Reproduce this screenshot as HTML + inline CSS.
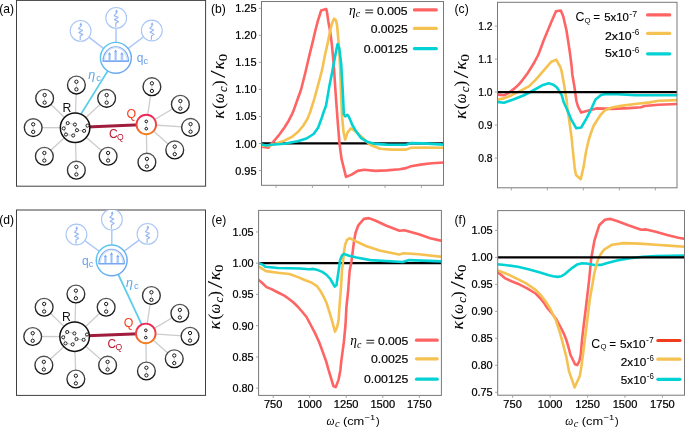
<!DOCTYPE html><html><head><meta charset="utf-8"><style>html,body{margin:0;padding:0;background:#fff;overflow:hidden}svg{display:block;will-change:transform;font-family:"Liberation Sans",sans-serif}</style></head><body>
<svg width="685" height="427" viewBox="0 0 685 427">
<defs>
<linearGradient id="gqa" x1="0" y1="0" x2="0" y2="1"><stop offset="0" stop-color="#ec2a5c"/><stop offset="0.55" stop-color="#f04a40"/><stop offset="1" stop-color="#f5821e"/></linearGradient>
<linearGradient id="gca" x1="0" y1="0" x2="1" y2="1"><stop offset="0" stop-color="#55cdf2"/><stop offset="0.5" stop-color="#62b4f0"/><stop offset="1" stop-color="#739ff0"/></linearGradient>
<linearGradient id="gqd" x1="0" y1="0" x2="0" y2="1"><stop offset="0" stop-color="#ec2a5c"/><stop offset="0.55" stop-color="#f04a40"/><stop offset="1" stop-color="#f5821e"/></linearGradient>
<linearGradient id="gcd" x1="0" y1="0" x2="1" y2="1"><stop offset="0" stop-color="#55cdf2"/><stop offset="0.5" stop-color="#62b4f0"/><stop offset="1" stop-color="#739ff0"/></linearGradient>
<linearGradient id="gsat" x1="0" y1="0" x2="0" y2="1"><stop offset="0" stop-color="#555"/><stop offset="0.5" stop-color="#333"/><stop offset="1" stop-color="#111"/></linearGradient>
</defs>
<rect width="685" height="427" fill="#fff"/>
<rect x="16.5" y="0.4" width="189.1" height="185.8" fill="none" stroke="#404040" stroke-width="1"/>
<rect x="16.5" y="210.0" width="189.0" height="185.4" fill="none" stroke="#404040" stroke-width="1"/>
<svg x="16.5" y="0.4" width="189.1" height="185.8" viewBox="16.5 0.4 189.1 185.8" overflow="hidden">
<line x1="75.10" y1="127.75" x2="76.40" y2="85.05" stroke="#cccccc" stroke-width="1.3"/>
<line x1="75.10" y1="127.75" x2="44.65" y2="98.30" stroke="#cccccc" stroke-width="1.3"/>
<line x1="75.10" y1="127.75" x2="33.20" y2="127.60" stroke="#cccccc" stroke-width="1.3"/>
<line x1="75.10" y1="127.75" x2="44.35" y2="156.25" stroke="#cccccc" stroke-width="1.3"/>
<line x1="75.10" y1="127.75" x2="76.35" y2="170.15" stroke="#cccccc" stroke-width="1.3"/>
<line x1="75.10" y1="127.75" x2="108.10" y2="156.25" stroke="#cccccc" stroke-width="1.3"/>
<line x1="75.10" y1="127.75" x2="106.65" y2="98.35" stroke="#cccccc" stroke-width="1.3"/>
<line x1="146.30" y1="124.50" x2="151.90" y2="86.65" stroke="#cccccc" stroke-width="1.3"/>
<line x1="146.30" y1="124.50" x2="180.35" y2="104.30" stroke="#cccccc" stroke-width="1.3"/>
<line x1="146.30" y1="124.50" x2="190.55" y2="127.40" stroke="#cccccc" stroke-width="1.3"/>
<line x1="146.30" y1="124.50" x2="174.75" y2="149.90" stroke="#cccccc" stroke-width="1.3"/>
<line x1="146.30" y1="124.50" x2="146.90" y2="162.15" stroke="#cccccc" stroke-width="1.3"/>
<line x1="115.85" y1="57.85" x2="80.60" y2="30.90" stroke="#abc8f6" stroke-width="1.5"/>
<line x1="115.85" y1="57.85" x2="116.20" y2="17.90" stroke="#abc8f6" stroke-width="1.5"/>
<line x1="115.85" y1="57.85" x2="151.80" y2="30.50" stroke="#abc8f6" stroke-width="1.5"/>
<line x1="115.85" y1="57.85" x2="72.50" y2="127.80" stroke="#5ccdec" stroke-width="1.8"/>
<line x1="75.10" y1="127.45" x2="146.30" y2="124.50" stroke="#a01c3c" stroke-width="3.0"/>
<circle cx="76.40" cy="85.05" r="8.90" fill="#fff" stroke="url(#gsat)" stroke-width="1.35"/>
<line x1="76.40" y1="82.65" x2="76.40" y2="87.45" stroke="#bbb" stroke-width="0.7"/>
<circle cx="76.40" cy="81.75" r="1.65" fill="#fff" stroke="#111" stroke-width="0.95"/>
<circle cx="76.40" cy="89.35" r="1.65" fill="#fff" stroke="#111" stroke-width="0.95"/>
<circle cx="44.65" cy="98.30" r="8.90" fill="#fff" stroke="url(#gsat)" stroke-width="1.35"/>
<line x1="44.65" y1="95.90" x2="44.65" y2="100.70" stroke="#bbb" stroke-width="0.7"/>
<circle cx="44.65" cy="95.00" r="1.65" fill="#fff" stroke="#111" stroke-width="0.95"/>
<circle cx="44.65" cy="102.60" r="1.65" fill="#fff" stroke="#111" stroke-width="0.95"/>
<circle cx="33.20" cy="127.60" r="8.90" fill="#fff" stroke="url(#gsat)" stroke-width="1.35"/>
<line x1="33.20" y1="125.20" x2="33.20" y2="130.00" stroke="#bbb" stroke-width="0.7"/>
<circle cx="33.20" cy="124.30" r="1.65" fill="#fff" stroke="#111" stroke-width="0.95"/>
<circle cx="33.20" cy="131.90" r="1.65" fill="#fff" stroke="#111" stroke-width="0.95"/>
<circle cx="44.35" cy="156.25" r="8.90" fill="#fff" stroke="url(#gsat)" stroke-width="1.35"/>
<line x1="44.35" y1="153.85" x2="44.35" y2="158.65" stroke="#bbb" stroke-width="0.7"/>
<circle cx="44.35" cy="152.95" r="1.65" fill="#fff" stroke="#111" stroke-width="0.95"/>
<circle cx="44.35" cy="160.55" r="1.65" fill="#fff" stroke="#111" stroke-width="0.95"/>
<circle cx="76.35" cy="170.15" r="8.90" fill="#fff" stroke="url(#gsat)" stroke-width="1.35"/>
<line x1="76.35" y1="167.75" x2="76.35" y2="172.55" stroke="#bbb" stroke-width="0.7"/>
<circle cx="76.35" cy="166.85" r="1.65" fill="#fff" stroke="#111" stroke-width="0.95"/>
<circle cx="76.35" cy="174.45" r="1.65" fill="#fff" stroke="#111" stroke-width="0.95"/>
<circle cx="108.10" cy="156.25" r="8.90" fill="#fff" stroke="url(#gsat)" stroke-width="1.35"/>
<line x1="108.10" y1="153.85" x2="108.10" y2="158.65" stroke="#bbb" stroke-width="0.7"/>
<circle cx="108.10" cy="152.95" r="1.65" fill="#fff" stroke="#111" stroke-width="0.95"/>
<circle cx="108.10" cy="160.55" r="1.65" fill="#fff" stroke="#111" stroke-width="0.95"/>
<circle cx="106.65" cy="98.35" r="8.90" fill="#fff" stroke="url(#gsat)" stroke-width="1.35"/>
<line x1="106.65" y1="95.95" x2="106.65" y2="100.75" stroke="#bbb" stroke-width="0.7"/>
<circle cx="106.65" cy="95.05" r="1.65" fill="#fff" stroke="#111" stroke-width="0.95"/>
<circle cx="106.65" cy="102.65" r="1.65" fill="#fff" stroke="#111" stroke-width="0.95"/>
<circle cx="151.90" cy="86.65" r="8.90" fill="#fff" stroke="url(#gsat)" stroke-width="1.35"/>
<line x1="151.90" y1="84.25" x2="151.90" y2="89.05" stroke="#bbb" stroke-width="0.7"/>
<circle cx="151.90" cy="83.35" r="1.65" fill="#fff" stroke="#111" stroke-width="0.95"/>
<circle cx="151.90" cy="90.95" r="1.65" fill="#fff" stroke="#111" stroke-width="0.95"/>
<circle cx="180.35" cy="104.30" r="8.90" fill="#fff" stroke="url(#gsat)" stroke-width="1.35"/>
<line x1="180.35" y1="101.90" x2="180.35" y2="106.70" stroke="#bbb" stroke-width="0.7"/>
<circle cx="180.35" cy="101.00" r="1.65" fill="#fff" stroke="#111" stroke-width="0.95"/>
<circle cx="180.35" cy="108.60" r="1.65" fill="#fff" stroke="#111" stroke-width="0.95"/>
<circle cx="190.55" cy="127.40" r="8.90" fill="#fff" stroke="url(#gsat)" stroke-width="1.35"/>
<line x1="190.55" y1="125.00" x2="190.55" y2="129.80" stroke="#bbb" stroke-width="0.7"/>
<circle cx="190.55" cy="124.10" r="1.65" fill="#fff" stroke="#111" stroke-width="0.95"/>
<circle cx="190.55" cy="131.70" r="1.65" fill="#fff" stroke="#111" stroke-width="0.95"/>
<circle cx="174.75" cy="149.90" r="8.90" fill="#fff" stroke="url(#gsat)" stroke-width="1.35"/>
<line x1="174.75" y1="147.50" x2="174.75" y2="152.30" stroke="#bbb" stroke-width="0.7"/>
<circle cx="174.75" cy="146.60" r="1.65" fill="#fff" stroke="#111" stroke-width="0.95"/>
<circle cx="174.75" cy="154.20" r="1.65" fill="#fff" stroke="#111" stroke-width="0.95"/>
<circle cx="146.90" cy="162.15" r="8.90" fill="#fff" stroke="url(#gsat)" stroke-width="1.35"/>
<line x1="146.90" y1="159.75" x2="146.90" y2="164.55" stroke="#bbb" stroke-width="0.7"/>
<circle cx="146.90" cy="158.85" r="1.65" fill="#fff" stroke="#111" stroke-width="0.95"/>
<circle cx="146.90" cy="166.45" r="1.65" fill="#fff" stroke="#111" stroke-width="0.95"/>
<circle cx="80.60" cy="30.90" r="10.40" fill="#fff" stroke="#a9c6f5" stroke-width="1.1"/>
<polyline points="80.2,40.1 80.2,36.3 82.8,34.6 78.9,32.6 82.5,30.4 78.6,28.7 80.9,26.2 80.9,24.3" fill="none" stroke="#98b9f3" stroke-width="1.2" stroke-linejoin="round"/>
<polygon points="80.9,22.3 79.4,25.2 82.4,25.2" fill="#8fb4f2"/>
<circle cx="116.20" cy="17.90" r="10.40" fill="#fff" stroke="#a9c6f5" stroke-width="1.1"/>
<polyline points="115.8,27.1 115.8,23.3 118.4,21.6 114.5,19.6 118.1,17.4 114.2,15.7 116.5,13.2 116.5,11.3" fill="none" stroke="#98b9f3" stroke-width="1.2" stroke-linejoin="round"/>
<polygon points="116.5,9.3 115.0,12.2 118.0,12.2" fill="#8fb4f2"/>
<circle cx="151.80" cy="30.50" r="10.40" fill="#fff" stroke="#a9c6f5" stroke-width="1.1"/>
<polyline points="151.4,39.7 151.4,35.9 154.0,34.2 150.1,32.2 153.7,30.0 149.8,28.3 152.1,25.8 152.1,23.9" fill="none" stroke="#98b9f3" stroke-width="1.2" stroke-linejoin="round"/>
<polygon points="152.1,21.9 150.6,24.8 153.6,24.8" fill="#8fb4f2"/>
<circle cx="75.10" cy="127.75" r="14.75" fill="#fff" stroke="#111" stroke-width="1.5"/>
<line x1="67.70" y1="123.10" x2="74.90" y2="124.50" stroke="#aaa" stroke-width="0.6"/>
<line x1="74.90" y1="124.50" x2="77.00" y2="130.20" stroke="#aaa" stroke-width="0.6"/>
<line x1="77.00" y1="130.20" x2="73.20" y2="135.50" stroke="#aaa" stroke-width="0.6"/>
<line x1="73.20" y1="135.50" x2="66.00" y2="134.50" stroke="#aaa" stroke-width="0.6"/>
<line x1="66.00" y1="134.50" x2="63.70" y2="128.40" stroke="#aaa" stroke-width="0.6"/>
<line x1="63.70" y1="128.40" x2="67.70" y2="123.10" stroke="#aaa" stroke-width="0.6"/>
<line x1="77.00" y1="130.20" x2="84.10" y2="130.90" stroke="#aaa" stroke-width="0.6"/>
<line x1="84.10" y1="130.90" x2="87.50" y2="125.60" stroke="#aaa" stroke-width="0.6"/>
<circle cx="67.70" cy="123.10" r="1.55" fill="#fff" stroke="#1a1a1a" stroke-width="0.95"/>
<circle cx="74.90" cy="124.50" r="1.55" fill="#fff" stroke="#1a1a1a" stroke-width="0.95"/>
<circle cx="63.70" cy="128.40" r="1.55" fill="#fff" stroke="#1a1a1a" stroke-width="0.95"/>
<circle cx="77.00" cy="130.20" r="1.55" fill="#fff" stroke="#1a1a1a" stroke-width="0.95"/>
<circle cx="84.10" cy="130.90" r="1.55" fill="#fff" stroke="#1a1a1a" stroke-width="0.95"/>
<circle cx="87.50" cy="125.60" r="1.55" fill="#fff" stroke="#1a1a1a" stroke-width="0.95"/>
<circle cx="66.00" cy="134.50" r="1.55" fill="#fff" stroke="#1a1a1a" stroke-width="0.95"/>
<circle cx="73.20" cy="135.50" r="1.55" fill="#fff" stroke="#1a1a1a" stroke-width="0.95"/>
<circle cx="146.30" cy="124.50" r="9.8" fill="#fff" stroke="url(#gqa)" stroke-width="1.9"/>
<line x1="146.30" y1="122.90" x2="146.30" y2="126.90" stroke="#bbb" stroke-width="0.6"/>
<circle cx="146.30" cy="121.40" r="1.3" fill="#fff" stroke="#111" stroke-width="1.0"/>
<circle cx="146.30" cy="128.70" r="1.3" fill="#fff" stroke="#111" stroke-width="1.0"/>
<circle cx="115.85" cy="57.85" r="15.45" fill="#fff" stroke="url(#gca)" stroke-width="1.45"/>
<path d="M103.05,61.20 A12.70,14.40 0 0 1 128.45,61.20 Z" fill="#fff" stroke="#78a8f2" stroke-width="1.3"/>
<path d="M104.45,60.60 A11.30,13.00 0 0 1 127.05,60.60" fill="none" stroke="#d2e3fb" stroke-width="1.4"/>
<line x1="109.55" y1="60.60" x2="109.55" y2="53.95" stroke="#c4dafa" stroke-width="2.8"/>
<line x1="109.55" y1="60.60" x2="109.55" y2="53.95" stroke="#8fb8f5" stroke-width="0.8"/>
<polygon points="109.5,52.0 108.0,54.6 111.0,54.6" fill="#78a6f0"/>
<line x1="115.65" y1="60.60" x2="115.65" y2="51.55" stroke="#c4dafa" stroke-width="2.8"/>
<line x1="115.65" y1="60.60" x2="115.65" y2="51.55" stroke="#8fb8f5" stroke-width="0.8"/>
<polygon points="115.6,49.5 114.1,52.1 117.1,52.1" fill="#78a6f0"/>
<line x1="121.95" y1="60.60" x2="121.95" y2="53.95" stroke="#c4dafa" stroke-width="2.8"/>
<line x1="121.95" y1="60.60" x2="121.95" y2="53.95" stroke="#8fb8f5" stroke-width="0.8"/>
<polygon points="121.9,52.0 120.4,54.6 123.4,54.6" fill="#78a6f0"/>
<line x1="103.05" y1="61.20" x2="128.45" y2="61.20" stroke="#78a8f2" stroke-width="1.3"/>
<text x="62.40" y="111.70" font-size="12.2" fill="#111">R</text>
<text x="126.40" y="118.40" font-size="12.4" fill="#f8401f">Q</text>
<text x="109.10" y="137.90" font-size="12.0" fill="#bc1830">C</text>
<text x="117.00" y="140.00" font-size="8.6" fill="#bc1830">Q</text>
<text x="136.70" y="61.80" font-size="12" fill="#6b9ee8">q</text>
<text x="143.50" y="64.00" font-size="9.4" fill="#6b9ee8">c</text>
<text x="88.20" y="78.70" font-size="12.5" font-style="italic" fill="#5aa8e8">&#951;</text>
<text x="96.20" y="80.80" font-size="9.4" fill="#5aa8e8">c</text>
</svg>
<svg x="16.5" y="210.0" width="189.0" height="185.4" viewBox="16.5 210.0 189.0 185.4" overflow="hidden">
<line x1="74.60" y1="336.65" x2="75.90" y2="293.95" stroke="#cccccc" stroke-width="1.3"/>
<line x1="74.60" y1="336.65" x2="44.15" y2="307.20" stroke="#cccccc" stroke-width="1.3"/>
<line x1="74.60" y1="336.65" x2="32.70" y2="336.50" stroke="#cccccc" stroke-width="1.3"/>
<line x1="74.60" y1="336.65" x2="43.85" y2="365.15" stroke="#cccccc" stroke-width="1.3"/>
<line x1="74.60" y1="336.65" x2="75.85" y2="379.05" stroke="#cccccc" stroke-width="1.3"/>
<line x1="74.60" y1="336.65" x2="107.60" y2="365.15" stroke="#cccccc" stroke-width="1.3"/>
<line x1="74.60" y1="336.65" x2="106.15" y2="307.25" stroke="#cccccc" stroke-width="1.3"/>
<line x1="145.80" y1="333.40" x2="151.40" y2="295.55" stroke="#cccccc" stroke-width="1.3"/>
<line x1="145.80" y1="333.40" x2="179.85" y2="313.20" stroke="#cccccc" stroke-width="1.3"/>
<line x1="145.80" y1="333.40" x2="190.05" y2="336.30" stroke="#cccccc" stroke-width="1.3"/>
<line x1="145.80" y1="333.40" x2="174.25" y2="358.80" stroke="#cccccc" stroke-width="1.3"/>
<line x1="145.80" y1="333.40" x2="146.40" y2="371.05" stroke="#cccccc" stroke-width="1.3"/>
<line x1="111.70" y1="260.35" x2="76.45" y2="234.50" stroke="#abc8f6" stroke-width="1.5"/>
<line x1="111.70" y1="260.35" x2="111.90" y2="219.60" stroke="#abc8f6" stroke-width="1.5"/>
<line x1="111.70" y1="260.35" x2="147.50" y2="233.90" stroke="#abc8f6" stroke-width="1.5"/>
<line x1="111.70" y1="260.35" x2="145.80" y2="333.40" stroke="#5ccdec" stroke-width="1.8"/>
<line x1="74.60" y1="336.35" x2="145.80" y2="333.40" stroke="#a01c3c" stroke-width="3.0"/>
<circle cx="75.90" cy="293.95" r="8.90" fill="#fff" stroke="url(#gsat)" stroke-width="1.35"/>
<line x1="75.90" y1="291.55" x2="75.90" y2="296.35" stroke="#bbb" stroke-width="0.7"/>
<circle cx="75.90" cy="290.65" r="1.65" fill="#fff" stroke="#111" stroke-width="0.95"/>
<circle cx="75.90" cy="298.25" r="1.65" fill="#fff" stroke="#111" stroke-width="0.95"/>
<circle cx="44.15" cy="307.20" r="8.90" fill="#fff" stroke="url(#gsat)" stroke-width="1.35"/>
<line x1="44.15" y1="304.80" x2="44.15" y2="309.60" stroke="#bbb" stroke-width="0.7"/>
<circle cx="44.15" cy="303.90" r="1.65" fill="#fff" stroke="#111" stroke-width="0.95"/>
<circle cx="44.15" cy="311.50" r="1.65" fill="#fff" stroke="#111" stroke-width="0.95"/>
<circle cx="32.70" cy="336.50" r="8.90" fill="#fff" stroke="url(#gsat)" stroke-width="1.35"/>
<line x1="32.70" y1="334.10" x2="32.70" y2="338.90" stroke="#bbb" stroke-width="0.7"/>
<circle cx="32.70" cy="333.20" r="1.65" fill="#fff" stroke="#111" stroke-width="0.95"/>
<circle cx="32.70" cy="340.80" r="1.65" fill="#fff" stroke="#111" stroke-width="0.95"/>
<circle cx="43.85" cy="365.15" r="8.90" fill="#fff" stroke="url(#gsat)" stroke-width="1.35"/>
<line x1="43.85" y1="362.75" x2="43.85" y2="367.55" stroke="#bbb" stroke-width="0.7"/>
<circle cx="43.85" cy="361.85" r="1.65" fill="#fff" stroke="#111" stroke-width="0.95"/>
<circle cx="43.85" cy="369.45" r="1.65" fill="#fff" stroke="#111" stroke-width="0.95"/>
<circle cx="75.85" cy="379.05" r="8.90" fill="#fff" stroke="url(#gsat)" stroke-width="1.35"/>
<line x1="75.85" y1="376.65" x2="75.85" y2="381.45" stroke="#bbb" stroke-width="0.7"/>
<circle cx="75.85" cy="375.75" r="1.65" fill="#fff" stroke="#111" stroke-width="0.95"/>
<circle cx="75.85" cy="383.35" r="1.65" fill="#fff" stroke="#111" stroke-width="0.95"/>
<circle cx="107.60" cy="365.15" r="8.90" fill="#fff" stroke="url(#gsat)" stroke-width="1.35"/>
<line x1="107.60" y1="362.75" x2="107.60" y2="367.55" stroke="#bbb" stroke-width="0.7"/>
<circle cx="107.60" cy="361.85" r="1.65" fill="#fff" stroke="#111" stroke-width="0.95"/>
<circle cx="107.60" cy="369.45" r="1.65" fill="#fff" stroke="#111" stroke-width="0.95"/>
<circle cx="106.15" cy="307.25" r="8.90" fill="#fff" stroke="url(#gsat)" stroke-width="1.35"/>
<line x1="106.15" y1="304.85" x2="106.15" y2="309.65" stroke="#bbb" stroke-width="0.7"/>
<circle cx="106.15" cy="303.95" r="1.65" fill="#fff" stroke="#111" stroke-width="0.95"/>
<circle cx="106.15" cy="311.55" r="1.65" fill="#fff" stroke="#111" stroke-width="0.95"/>
<circle cx="151.40" cy="295.55" r="8.90" fill="#fff" stroke="url(#gsat)" stroke-width="1.35"/>
<line x1="151.40" y1="293.15" x2="151.40" y2="297.95" stroke="#bbb" stroke-width="0.7"/>
<circle cx="151.40" cy="292.25" r="1.65" fill="#fff" stroke="#111" stroke-width="0.95"/>
<circle cx="151.40" cy="299.85" r="1.65" fill="#fff" stroke="#111" stroke-width="0.95"/>
<circle cx="179.85" cy="313.20" r="8.90" fill="#fff" stroke="url(#gsat)" stroke-width="1.35"/>
<line x1="179.85" y1="310.80" x2="179.85" y2="315.60" stroke="#bbb" stroke-width="0.7"/>
<circle cx="179.85" cy="309.90" r="1.65" fill="#fff" stroke="#111" stroke-width="0.95"/>
<circle cx="179.85" cy="317.50" r="1.65" fill="#fff" stroke="#111" stroke-width="0.95"/>
<circle cx="190.05" cy="336.30" r="8.90" fill="#fff" stroke="url(#gsat)" stroke-width="1.35"/>
<line x1="190.05" y1="333.90" x2="190.05" y2="338.70" stroke="#bbb" stroke-width="0.7"/>
<circle cx="190.05" cy="333.00" r="1.65" fill="#fff" stroke="#111" stroke-width="0.95"/>
<circle cx="190.05" cy="340.60" r="1.65" fill="#fff" stroke="#111" stroke-width="0.95"/>
<circle cx="174.25" cy="358.80" r="8.90" fill="#fff" stroke="url(#gsat)" stroke-width="1.35"/>
<line x1="174.25" y1="356.40" x2="174.25" y2="361.20" stroke="#bbb" stroke-width="0.7"/>
<circle cx="174.25" cy="355.50" r="1.65" fill="#fff" stroke="#111" stroke-width="0.95"/>
<circle cx="174.25" cy="363.10" r="1.65" fill="#fff" stroke="#111" stroke-width="0.95"/>
<circle cx="146.40" cy="371.05" r="8.90" fill="#fff" stroke="url(#gsat)" stroke-width="1.35"/>
<line x1="146.40" y1="368.65" x2="146.40" y2="373.45" stroke="#bbb" stroke-width="0.7"/>
<circle cx="146.40" cy="367.75" r="1.65" fill="#fff" stroke="#111" stroke-width="0.95"/>
<circle cx="146.40" cy="375.35" r="1.65" fill="#fff" stroke="#111" stroke-width="0.95"/>
<circle cx="76.45" cy="234.50" r="10.40" fill="#fff" stroke="#a9c6f5" stroke-width="1.1"/>
<polyline points="76.0,243.7 76.0,239.9 78.7,238.2 74.8,236.2 78.4,234.0 74.5,232.3 76.8,229.8 76.8,227.9" fill="none" stroke="#98b9f3" stroke-width="1.2" stroke-linejoin="round"/>
<polygon points="76.8,225.9 75.2,228.8 78.2,228.8" fill="#8fb4f2"/>
<circle cx="111.90" cy="219.60" r="10.40" fill="#fff" stroke="#a9c6f5" stroke-width="1.1"/>
<polyline points="111.5,228.8 111.5,225.0 114.1,223.3 110.2,221.3 113.8,219.1 109.9,217.4 112.2,214.9 112.2,213.0" fill="none" stroke="#98b9f3" stroke-width="1.2" stroke-linejoin="round"/>
<polygon points="112.2,211.0 110.7,213.9 113.7,213.9" fill="#8fb4f2"/>
<circle cx="147.50" cy="233.90" r="10.40" fill="#fff" stroke="#a9c6f5" stroke-width="1.1"/>
<polyline points="147.1,243.1 147.1,239.3 149.7,237.6 145.8,235.6 149.4,233.4 145.5,231.7 147.8,229.2 147.8,227.3" fill="none" stroke="#98b9f3" stroke-width="1.2" stroke-linejoin="round"/>
<polygon points="147.8,225.3 146.3,228.2 149.3,228.2" fill="#8fb4f2"/>
<circle cx="74.60" cy="336.65" r="14.75" fill="#fff" stroke="#111" stroke-width="1.5"/>
<line x1="67.20" y1="332.00" x2="74.40" y2="333.40" stroke="#aaa" stroke-width="0.6"/>
<line x1="74.40" y1="333.40" x2="76.50" y2="339.10" stroke="#aaa" stroke-width="0.6"/>
<line x1="76.50" y1="339.10" x2="72.70" y2="344.40" stroke="#aaa" stroke-width="0.6"/>
<line x1="72.70" y1="344.40" x2="65.50" y2="343.40" stroke="#aaa" stroke-width="0.6"/>
<line x1="65.50" y1="343.40" x2="63.20" y2="337.30" stroke="#aaa" stroke-width="0.6"/>
<line x1="63.20" y1="337.30" x2="67.20" y2="332.00" stroke="#aaa" stroke-width="0.6"/>
<line x1="76.50" y1="339.10" x2="83.60" y2="339.80" stroke="#aaa" stroke-width="0.6"/>
<line x1="83.60" y1="339.80" x2="87.00" y2="334.50" stroke="#aaa" stroke-width="0.6"/>
<circle cx="67.20" cy="332.00" r="1.55" fill="#fff" stroke="#1a1a1a" stroke-width="0.95"/>
<circle cx="74.40" cy="333.40" r="1.55" fill="#fff" stroke="#1a1a1a" stroke-width="0.95"/>
<circle cx="63.20" cy="337.30" r="1.55" fill="#fff" stroke="#1a1a1a" stroke-width="0.95"/>
<circle cx="76.50" cy="339.10" r="1.55" fill="#fff" stroke="#1a1a1a" stroke-width="0.95"/>
<circle cx="83.60" cy="339.80" r="1.55" fill="#fff" stroke="#1a1a1a" stroke-width="0.95"/>
<circle cx="87.00" cy="334.50" r="1.55" fill="#fff" stroke="#1a1a1a" stroke-width="0.95"/>
<circle cx="65.50" cy="343.40" r="1.55" fill="#fff" stroke="#1a1a1a" stroke-width="0.95"/>
<circle cx="72.70" cy="344.40" r="1.55" fill="#fff" stroke="#1a1a1a" stroke-width="0.95"/>
<circle cx="145.80" cy="333.40" r="9.8" fill="#fff" stroke="url(#gqd)" stroke-width="1.9"/>
<line x1="145.80" y1="331.80" x2="145.80" y2="335.80" stroke="#bbb" stroke-width="0.6"/>
<circle cx="145.80" cy="330.30" r="1.3" fill="#fff" stroke="#111" stroke-width="1.0"/>
<circle cx="145.80" cy="337.60" r="1.3" fill="#fff" stroke="#111" stroke-width="1.0"/>
<circle cx="111.70" cy="260.35" r="15.45" fill="#fff" stroke="url(#gcd)" stroke-width="1.45"/>
<path d="M98.90,263.70 A12.70,14.40 0 0 1 124.30,263.70 Z" fill="#fff" stroke="#78a8f2" stroke-width="1.3"/>
<path d="M100.30,263.10 A11.30,13.00 0 0 1 122.90,263.10" fill="none" stroke="#d2e3fb" stroke-width="1.4"/>
<line x1="105.40" y1="263.10" x2="105.40" y2="256.45" stroke="#c4dafa" stroke-width="2.8"/>
<line x1="105.40" y1="263.10" x2="105.40" y2="256.45" stroke="#8fb8f5" stroke-width="0.8"/>
<polygon points="105.4,254.5 103.9,257.1 106.9,257.1" fill="#78a6f0"/>
<line x1="111.50" y1="263.10" x2="111.50" y2="254.05" stroke="#c4dafa" stroke-width="2.8"/>
<line x1="111.50" y1="263.10" x2="111.50" y2="254.05" stroke="#8fb8f5" stroke-width="0.8"/>
<polygon points="111.5,252.1 110.0,254.7 113.0,254.7" fill="#78a6f0"/>
<line x1="117.80" y1="263.10" x2="117.80" y2="256.45" stroke="#c4dafa" stroke-width="2.8"/>
<line x1="117.80" y1="263.10" x2="117.80" y2="256.45" stroke="#8fb8f5" stroke-width="0.8"/>
<polygon points="117.8,254.5 116.3,257.1 119.3,257.1" fill="#78a6f0"/>
<line x1="98.90" y1="263.70" x2="124.30" y2="263.70" stroke="#78a8f2" stroke-width="1.3"/>
<text x="61.90" y="320.60" font-size="12.2" fill="#111">R</text>
<text x="123.70" y="327.40" font-size="12.4" fill="#f8401f">Q</text>
<text x="107.60" y="347.60" font-size="12.0" fill="#bc1830">C</text>
<text x="115.50" y="349.70" font-size="8.6" fill="#bc1830">Q</text>
<text x="82.00" y="264.80" font-size="12" fill="#6b9ee8">q</text>
<text x="88.80" y="267.00" font-size="9.4" fill="#6b9ee8">c</text>
<text x="126.00" y="286.60" font-size="12.5" font-style="italic" fill="#5aa8e8">&#951;</text>
<text x="134.00" y="288.70" font-size="9.4" fill="#5aa8e8">c</text>
</svg>
<clipPath id="clipb"><rect x="261.50" y="1.50" width="182.00" height="183.80"/></clipPath>
<g clip-path="url(#clipb)"><line x1="261.50" y1="143.40" x2="443.50" y2="143.40" stroke="#000" stroke-width="2.3"/><polyline points="262.0,146.8 265.0,147.3 268.5,147.7 270.9,144.3 275.4,139.4 279.8,134.0 284.3,127.8 288.7,120.7 292.3,113.6 294.0,109.4 297.5,99.5 301.0,89.8 305.5,72.0 306.7,66.8 309.8,53.6 312.4,43.1 315.5,30.0 317.8,21.2 321.1,10.6 326.2,9.1 326.9,11.7 328.4,21.9 329.9,30.0 331.7,43.1 333.0,56.3 333.9,66.8 335.3,88.5 336.1,100.0 337.9,124.2 339.5,143.6 341.5,158.8 346.0,176.9 351.2,174.9 357.6,170.9 364.1,169.8 375.4,170.9 386.7,170.4 399.6,169.3 406.1,168.1 410.9,166.3 422.2,164.4 431.9,163.3 444.0,162.5" fill="none" stroke="#ff6464" stroke-width="2.6" stroke-linejoin="round" stroke-linecap="round"/><polyline points="262.0,145.7 268.5,146.0 275.4,143.8 284.3,140.7 291.4,137.2 297.6,132.3 303.0,126.0 307.4,118.9 310.2,112.0 312.2,105.5 314.4,98.7 318.0,85.4 321.5,72.0 322.7,66.8 325.1,54.5 327.7,43.1 330.3,30.0 332.0,23.4 334.2,18.6 336.0,20.4 337.0,25.0 337.6,31.0 338.2,38.0 338.8,45.0 339.5,56.0 340.2,70.0 340.8,88.5 341.3,100.0 342.0,116.0 343.6,132.3 345.2,139.6 347.6,132.3 350.9,128.3 355.7,131.5 362.5,137.8 370.5,145.0 380.2,148.8 391.5,149.6 406.1,149.6 410.9,147.8 423.9,147.5 444.0,147.8" fill="none" stroke="#f5c150" stroke-width="2.6" stroke-linejoin="round" stroke-linecap="round"/><polyline points="262.0,144.4 266.0,145.5 270.9,144.7 284.3,143.8 297.6,141.2 306.5,138.5 313.6,134.0 318.1,127.8 321.7,118.0 324.0,111.0 326.0,105.8 329.5,85.4 332.2,72.0 334.3,60.6 336.3,50.0 337.6,44.0 339.2,48.0 340.2,55.7 341.2,64.2 342.6,88.5 343.2,100.0 343.8,114.1 345.2,116.4 347.3,114.9 348.7,116.4 350.5,120.5 352.3,125.0 355.7,130.7 360.8,137.8 367.3,141.8 375.4,143.9 386.7,144.6 406.1,144.7 410.9,143.1 423.9,143.4 444.0,144.6" fill="none" stroke="#03d2d4" stroke-width="2.6" stroke-linejoin="round" stroke-linecap="round"/></g>
<rect x="261.50" y="1.50" width="182.00" height="183.80" fill="none" stroke="#787878" stroke-width="1"/>
<line x1="258.90" y1="8.30" x2="261.50" y2="8.30" stroke="#9a9a9a" stroke-width="0.9"/>
<text x="256.50" y="12.30" font-size="10.5" stroke="#000" stroke-width="0.22" text-anchor="end" textLength="21.3" lengthAdjust="spacingAndGlyphs">1.25</text>
<line x1="258.90" y1="35.34" x2="261.50" y2="35.34" stroke="#9a9a9a" stroke-width="0.9"/>
<text x="256.50" y="39.34" font-size="10.5" stroke="#000" stroke-width="0.22" text-anchor="end" textLength="21.3" lengthAdjust="spacingAndGlyphs">1.20</text>
<line x1="258.90" y1="62.38" x2="261.50" y2="62.38" stroke="#9a9a9a" stroke-width="0.9"/>
<text x="256.50" y="66.38" font-size="10.5" stroke="#000" stroke-width="0.22" text-anchor="end" textLength="21.3" lengthAdjust="spacingAndGlyphs">1.15</text>
<line x1="258.90" y1="89.42" x2="261.50" y2="89.42" stroke="#9a9a9a" stroke-width="0.9"/>
<text x="256.50" y="93.42" font-size="10.5" stroke="#000" stroke-width="0.22" text-anchor="end" textLength="21.3" lengthAdjust="spacingAndGlyphs">1.10</text>
<line x1="258.90" y1="116.46" x2="261.50" y2="116.46" stroke="#9a9a9a" stroke-width="0.9"/>
<text x="256.50" y="120.46" font-size="10.5" stroke="#000" stroke-width="0.22" text-anchor="end" textLength="21.3" lengthAdjust="spacingAndGlyphs">1.05</text>
<line x1="258.90" y1="143.50" x2="261.50" y2="143.50" stroke="#9a9a9a" stroke-width="0.9"/>
<text x="256.50" y="147.50" font-size="10.5" stroke="#000" stroke-width="0.22" text-anchor="end" textLength="21.3" lengthAdjust="spacingAndGlyphs">1.00</text>
<line x1="258.90" y1="170.54" x2="261.50" y2="170.54" stroke="#9a9a9a" stroke-width="0.9"/>
<text x="256.50" y="174.54" font-size="10.5" stroke="#000" stroke-width="0.22" text-anchor="end" textLength="21.3" lengthAdjust="spacingAndGlyphs">0.95</text>
<line x1="276.10" y1="185.30" x2="276.10" y2="187.90" stroke="#9a9a9a" stroke-width="0.9"/>
<line x1="312.40" y1="185.30" x2="312.40" y2="187.90" stroke="#9a9a9a" stroke-width="0.9"/>
<line x1="348.70" y1="185.30" x2="348.70" y2="187.90" stroke="#9a9a9a" stroke-width="0.9"/>
<line x1="385.10" y1="185.30" x2="385.10" y2="187.90" stroke="#9a9a9a" stroke-width="0.9"/>
<line x1="421.40" y1="185.30" x2="421.40" y2="187.90" stroke="#9a9a9a" stroke-width="0.9"/>
<g transform="translate(223.60,118.50) rotate(-90)" font-family="Liberation Serif" stroke="#000" stroke-width="0.08"><text x="-0.30" y="0.00" font-size="17.5" font-style="italic" textLength="8.60" lengthAdjust="spacingAndGlyphs">&#954;</text><text x="9.40" y="0.00" font-size="17.5" textLength="6.00" lengthAdjust="spacingAndGlyphs">(</text><text x="15.60" y="0.00" font-size="17.5" font-style="italic" textLength="9.60" lengthAdjust="spacingAndGlyphs">&#969;</text><text x="26.60" y="2.90" font-size="12.0" font-style="italic" textLength="5.60" lengthAdjust="spacingAndGlyphs">c</text><text x="32.40" y="0.00" font-size="17.5" textLength="5.60" lengthAdjust="spacingAndGlyphs">)</text><text x="40.60" y="1.80" font-size="20.5" textLength="7.60" lengthAdjust="spacingAndGlyphs">/</text><text x="49.30" y="0.00" font-size="17.5" font-style="italic" textLength="8.00" lengthAdjust="spacingAndGlyphs">&#954;</text><text x="57.20" y="2.90" font-size="12.0" textLength="7.40" lengthAdjust="spacingAndGlyphs">0</text></g>
<text x="348.9" y="15.1" font-family="Liberation Serif" font-style="italic" font-size="13.6">&#951;</text>
<text x="355.7" y="17.4" font-family="Liberation Serif" font-style="italic" font-size="10">c</text>
<line x1="365.30" y1="10.10" x2="373.10" y2="10.10" stroke="#111" stroke-width="0.95"/>
<line x1="365.30" y1="12.80" x2="373.10" y2="12.80" stroke="#111" stroke-width="0.95"/>
<text x="377.10" y="15.00" font-size="11.5" stroke="#000" stroke-width="0.18" textLength="30.5" lengthAdjust="spacingAndGlyphs">0.005</text>
<line x1="414.40" y1="9.90" x2="436.30" y2="9.90" stroke="#ff6464" stroke-width="3.2" stroke-linecap="round"/>
<text x="370.70" y="32.50" font-size="11.5" stroke="#000" stroke-width="0.18" textLength="37.2" lengthAdjust="spacingAndGlyphs">0.0025</text>
<line x1="414.40" y1="28.40" x2="436.30" y2="28.40" stroke="#f5c150" stroke-width="3.2" stroke-linecap="round"/>
<text x="363.70" y="52.50" font-size="11.5" stroke="#000" stroke-width="0.18" textLength="44.2" lengthAdjust="spacingAndGlyphs">0.00125</text>
<line x1="414.40" y1="48.60" x2="436.30" y2="48.60" stroke="#03d2d4" stroke-width="3.2" stroke-linecap="round"/>
<clipPath id="clipc"><rect x="497.50" y="2.30" width="179.50" height="185.50"/></clipPath>
<g clip-path="url(#clipc)"><polyline points="497.0,94.6 504.6,95.2 508.7,92.8 514.6,88.4 518.5,84.8 522.9,79.6 527.6,73.2 533.5,63.8 538.2,55.0 540.5,49.0 543.6,40.5 548.0,30.0 551.1,22.6 556.0,11.3 560.8,10.5 563.2,16.2 566.4,30.0 568.2,41.4 569.9,52.8 571.7,66.8 572.3,74.4 574.5,87.3 576.4,101.0 578.0,106.5 581.2,112.6 588.5,110.5 596.5,108.4 612.7,108.9 628.9,108.1 641.0,107.2 644.5,106.0 658.5,104.8 678.0,104.0" fill="none" stroke="#ff6464" stroke-width="2.6" stroke-linejoin="round" stroke-linecap="round"/><polyline points="497.0,99.6 504.0,98.4 511.6,95.2 520.4,90.8 529.2,86.2 535.8,79.6 541.0,73.6 546.4,67.3 551.0,62.0 556.3,59.6 558.5,64.0 560.3,66.8 561.6,71.2 564.0,84.1 565.7,95.4 566.7,100.0 567.3,108.3 569.1,119.4 571.9,140.0 572.3,145.2 574.7,167.9 576.0,175.1 580.7,179.2 583.6,166.9 586.0,151.7 588.7,140.0 590.6,134.0 593.5,126.0 596.9,120.5 600.5,115.0 605.0,110.2 612.0,107.5 620.8,105.9 636.9,103.7 650.0,102.4 658.5,100.8 678.0,100.1" fill="none" stroke="#f5c150" stroke-width="2.6" stroke-linejoin="round" stroke-linecap="round"/><polyline points="497.0,101.9 504.0,102.8 514.6,99.0 523.4,95.5 530.4,92.0 542.2,85.3 548.7,83.3 552.7,84.4 556.8,87.3 559.9,92.1 561.8,95.4 563.9,102.8 566.5,108.3 571.3,119.6 576.3,128.3 581.2,127.5 586.8,117.8 591.7,108.1 595.5,99.4 601.0,95.0 604.7,94.3 617.6,94.3 635.1,95.2 678.0,95.2" fill="none" stroke="#03d2d4" stroke-width="2.6" stroke-linejoin="round" stroke-linecap="round"/><line x1="497.50" y1="92.10" x2="677.00" y2="92.10" stroke="#000" stroke-width="2.3"/></g>
<rect x="497.50" y="2.30" width="179.50" height="185.50" fill="none" stroke="#787878" stroke-width="1"/>
<line x1="494.90" y1="26.10" x2="497.50" y2="26.10" stroke="#9a9a9a" stroke-width="0.9"/>
<text x="492.50" y="30.10" font-size="10.5" stroke="#000" stroke-width="0.22" text-anchor="end" textLength="14.3" lengthAdjust="spacingAndGlyphs">1.2</text>
<line x1="494.90" y1="59.10" x2="497.50" y2="59.10" stroke="#9a9a9a" stroke-width="0.9"/>
<text x="492.50" y="63.10" font-size="10.5" stroke="#000" stroke-width="0.22" text-anchor="end" textLength="14.3" lengthAdjust="spacingAndGlyphs">1.1</text>
<line x1="494.90" y1="92.10" x2="497.50" y2="92.10" stroke="#9a9a9a" stroke-width="0.9"/>
<text x="492.50" y="96.10" font-size="10.5" stroke="#000" stroke-width="0.22" text-anchor="end" textLength="14.3" lengthAdjust="spacingAndGlyphs">1.0</text>
<line x1="494.90" y1="125.10" x2="497.50" y2="125.10" stroke="#9a9a9a" stroke-width="0.9"/>
<text x="492.50" y="129.10" font-size="10.5" stroke="#000" stroke-width="0.22" text-anchor="end" textLength="14.3" lengthAdjust="spacingAndGlyphs">0.9</text>
<line x1="494.90" y1="158.10" x2="497.50" y2="158.10" stroke="#9a9a9a" stroke-width="0.9"/>
<text x="492.50" y="162.10" font-size="10.5" stroke="#000" stroke-width="0.22" text-anchor="end" textLength="14.3" lengthAdjust="spacingAndGlyphs">0.8</text>
<line x1="511.30" y1="187.80" x2="511.30" y2="190.40" stroke="#9a9a9a" stroke-width="0.9"/>
<line x1="547.30" y1="187.80" x2="547.30" y2="190.40" stroke="#9a9a9a" stroke-width="0.9"/>
<line x1="583.30" y1="187.80" x2="583.30" y2="190.40" stroke="#9a9a9a" stroke-width="0.9"/>
<line x1="619.40" y1="187.80" x2="619.40" y2="190.40" stroke="#9a9a9a" stroke-width="0.9"/>
<line x1="655.40" y1="187.80" x2="655.40" y2="190.40" stroke="#9a9a9a" stroke-width="0.9"/>
<g transform="translate(465.90,118.80) rotate(-90)" font-family="Liberation Serif" stroke="#000" stroke-width="0.08"><text x="-0.30" y="0.00" font-size="17.5" font-style="italic" textLength="8.60" lengthAdjust="spacingAndGlyphs">&#954;</text><text x="9.40" y="0.00" font-size="17.5" textLength="6.00" lengthAdjust="spacingAndGlyphs">(</text><text x="15.60" y="0.00" font-size="17.5" font-style="italic" textLength="9.60" lengthAdjust="spacingAndGlyphs">&#969;</text><text x="26.60" y="2.90" font-size="12.0" font-style="italic" textLength="5.60" lengthAdjust="spacingAndGlyphs">c</text><text x="32.40" y="0.00" font-size="17.5" textLength="5.60" lengthAdjust="spacingAndGlyphs">)</text><text x="40.60" y="1.80" font-size="20.5" textLength="7.60" lengthAdjust="spacingAndGlyphs">/</text><text x="49.30" y="0.00" font-size="17.5" font-style="italic" textLength="8.00" lengthAdjust="spacingAndGlyphs">&#954;</text><text x="57.20" y="2.90" font-size="12.0" textLength="7.40" lengthAdjust="spacingAndGlyphs">0</text></g>
<text x="575.5" y="21.4" font-size="12.4">C</text>
<text x="584.6" y="22.8" font-size="7.7">Q</text>
<text x="593.3" y="21.2" font-size="11.8">=</text>
<text x="604.20" y="21.40" font-size="11.8" stroke="#000" stroke-width="0.18" textLength="24.6" lengthAdjust="spacingAndGlyphs">5x10</text>
<text x="629.30" y="16.90" font-size="8.2" textLength="7.8" lengthAdjust="spacingAndGlyphs">-7</text>
<text x="604.90" y="39.50" font-size="11.8" stroke="#000" stroke-width="0.18" textLength="26.7" lengthAdjust="spacingAndGlyphs">2x10</text>
<text x="632.10" y="35.00" font-size="8.2" textLength="7.3" lengthAdjust="spacingAndGlyphs">-6</text>
<text x="604.90" y="57.40" font-size="11.8" stroke="#000" stroke-width="0.18" textLength="26.7" lengthAdjust="spacingAndGlyphs">5x10</text>
<text x="632.10" y="52.90" font-size="8.2" textLength="7.3" lengthAdjust="spacingAndGlyphs">-6</text>
<line x1="647.6" y1="14.90" x2="669.7" y2="14.90" stroke="#ff6464" stroke-width="3.2" stroke-linecap="round"/>
<line x1="647.6" y1="33.40" x2="669.7" y2="33.40" stroke="#f5c150" stroke-width="3.2" stroke-linecap="round"/>
<line x1="647.6" y1="53.80" x2="669.7" y2="53.80" stroke="#03d2d4" stroke-width="3.2" stroke-linecap="round"/>
<clipPath id="clipe"><rect x="258.60" y="210.40" width="182.80" height="185.00"/></clipPath>
<g clip-path="url(#clipe)"><line x1="258.60" y1="263.10" x2="441.40" y2="263.10" stroke="#000" stroke-width="2.3"/><polyline points="258.0,279.4 262.0,282.7 266.5,287.1 270.9,288.9 278.0,292.5 284.3,295.6 288.7,298.7 293.2,302.3 297.6,306.5 302.0,311.5 306.5,317.0 310.5,324.5 314.9,332.9 319.3,342.5 322.8,352.1 326.3,361.8 328.6,370.2 333.4,386.0 335.7,387.2 338.6,379.6 340.4,370.2 341.2,361.8 343.8,342.5 345.5,325.0 346.4,307.5 348.2,290.0 349.6,271.0 351.4,261.9 352.8,251.0 353.9,242.2 355.5,233.0 358.3,225.3 363.9,218.9 368.8,218.1 375.2,220.5 386.5,225.8 399.5,230.7 404.3,230.2 418.9,234.2 430.2,238.3 442.0,240.9" fill="none" stroke="#ff6464" stroke-width="2.6" stroke-linejoin="round" stroke-linecap="round"/><polyline points="258.0,266.2 266.0,271.1 277.7,272.8 289.4,274.0 298.0,277.1 304.7,280.0 311.9,282.7 317.2,286.4 320.5,291.0 323.3,296.1 326.4,302.5 328.0,307.5 331.5,318.9 333.7,326.8 335.0,331.6 337.2,326.8 338.6,320.0 339.4,307.5 340.8,290.0 341.5,280.0 341.9,271.0 343.0,261.9 344.1,251.0 345.2,244.4 347.0,240.0 349.4,238.2 352.0,239.3 358.0,242.3 366.0,246.0 379.5,250.4 399.0,254.6 404.0,253.2 419.0,254.3 442.0,256.9" fill="none" stroke="#f5c150" stroke-width="2.6" stroke-linejoin="round" stroke-linecap="round"/><polyline points="258.0,262.6 262.5,264.6 265.3,266.8 277.7,268.0 300.0,268.5 308.9,269.2 313.4,268.9 317.8,270.1 322.3,271.9 326.7,275.0 330.3,279.0 332.9,283.5 334.7,286.6 336.5,285.0 338.3,272.8 340.1,260.3 341.9,255.6 344.1,253.9 349.2,255.7 356.5,257.5 370.4,260.1 402.7,262.0 409.2,260.1 442.0,261.4" fill="none" stroke="#03d2d4" stroke-width="2.6" stroke-linejoin="round" stroke-linecap="round"/></g>
<rect x="258.60" y="210.40" width="182.80" height="185.00" fill="none" stroke="#787878" stroke-width="1"/>
<line x1="256.00" y1="231.95" x2="258.60" y2="231.95" stroke="#9a9a9a" stroke-width="0.9"/>
<text x="253.60" y="235.95" font-size="10.5" stroke="#000" stroke-width="0.22" text-anchor="end" textLength="21.1" lengthAdjust="spacingAndGlyphs">1.05</text>
<line x1="256.00" y1="263.20" x2="258.60" y2="263.20" stroke="#9a9a9a" stroke-width="0.9"/>
<text x="253.60" y="267.20" font-size="10.5" stroke="#000" stroke-width="0.22" text-anchor="end" textLength="21.1" lengthAdjust="spacingAndGlyphs">1.00</text>
<line x1="256.00" y1="294.45" x2="258.60" y2="294.45" stroke="#9a9a9a" stroke-width="0.9"/>
<text x="253.60" y="298.45" font-size="10.5" stroke="#000" stroke-width="0.22" text-anchor="end" textLength="21.1" lengthAdjust="spacingAndGlyphs">0.95</text>
<line x1="256.00" y1="325.70" x2="258.60" y2="325.70" stroke="#9a9a9a" stroke-width="0.9"/>
<text x="253.60" y="329.70" font-size="10.5" stroke="#000" stroke-width="0.22" text-anchor="end" textLength="21.1" lengthAdjust="spacingAndGlyphs">0.90</text>
<line x1="256.00" y1="356.95" x2="258.60" y2="356.95" stroke="#9a9a9a" stroke-width="0.9"/>
<text x="253.60" y="360.95" font-size="10.5" stroke="#000" stroke-width="0.22" text-anchor="end" textLength="21.1" lengthAdjust="spacingAndGlyphs">0.85</text>
<line x1="256.00" y1="388.20" x2="258.60" y2="388.20" stroke="#9a9a9a" stroke-width="0.9"/>
<text x="253.60" y="392.20" font-size="10.5" stroke="#000" stroke-width="0.22" text-anchor="end" textLength="21.1" lengthAdjust="spacingAndGlyphs">0.80</text>
<line x1="273.20" y1="395.40" x2="273.20" y2="398.00" stroke="#9a9a9a" stroke-width="0.9"/>
<line x1="309.60" y1="395.40" x2="309.60" y2="398.00" stroke="#9a9a9a" stroke-width="0.9"/>
<line x1="346.20" y1="395.40" x2="346.20" y2="398.00" stroke="#9a9a9a" stroke-width="0.9"/>
<line x1="382.80" y1="395.40" x2="382.80" y2="398.00" stroke="#9a9a9a" stroke-width="0.9"/>
<line x1="419.30" y1="395.40" x2="419.30" y2="398.00" stroke="#9a9a9a" stroke-width="0.9"/>
<text x="273.20" y="408.40" font-size="10.5" stroke="#000" stroke-width="0.22" text-anchor="middle" textLength="18.5" lengthAdjust="spacingAndGlyphs">750</text>
<text x="309.60" y="408.40" font-size="10.5" stroke="#000" stroke-width="0.22" text-anchor="middle" textLength="24.7" lengthAdjust="spacingAndGlyphs">1000</text>
<text x="346.20" y="408.40" font-size="10.5" stroke="#000" stroke-width="0.22" text-anchor="middle" textLength="24.7" lengthAdjust="spacingAndGlyphs">1250</text>
<text x="382.80" y="408.40" font-size="10.5" stroke="#000" stroke-width="0.22" text-anchor="middle" textLength="24.7" lengthAdjust="spacingAndGlyphs">1500</text>
<text x="419.30" y="408.40" font-size="10.5" stroke="#000" stroke-width="0.22" text-anchor="middle" textLength="24.7" lengthAdjust="spacingAndGlyphs">1750</text>
<g transform="translate(220.40,329.20) rotate(-90)" font-family="Liberation Serif" stroke="#000" stroke-width="0.08"><text x="-0.30" y="0.00" font-size="17.5" font-style="italic" textLength="8.60" lengthAdjust="spacingAndGlyphs">&#954;</text><text x="9.40" y="0.00" font-size="17.5" textLength="6.00" lengthAdjust="spacingAndGlyphs">(</text><text x="15.60" y="0.00" font-size="17.5" font-style="italic" textLength="9.60" lengthAdjust="spacingAndGlyphs">&#969;</text><text x="26.60" y="2.90" font-size="12.0" font-style="italic" textLength="5.60" lengthAdjust="spacingAndGlyphs">c</text><text x="32.40" y="0.00" font-size="17.5" textLength="5.60" lengthAdjust="spacingAndGlyphs">)</text><text x="40.60" y="1.80" font-size="20.5" textLength="7.60" lengthAdjust="spacingAndGlyphs">/</text><text x="49.30" y="0.00" font-size="17.5" font-style="italic" textLength="8.00" lengthAdjust="spacingAndGlyphs">&#954;</text><text x="57.20" y="2.90" font-size="12.0" textLength="7.40" lengthAdjust="spacingAndGlyphs">0</text></g>
<text x="350.3" y="345.3" font-family="Liberation Serif" font-style="italic" font-size="13.6">&#951;</text>
<text x="357.1" y="347.6" font-family="Liberation Serif" font-style="italic" font-size="10">c</text>
<line x1="366.40" y1="340.30" x2="374.20" y2="340.30" stroke="#111" stroke-width="0.95"/>
<line x1="366.40" y1="343.00" x2="374.20" y2="343.00" stroke="#111" stroke-width="0.95"/>
<text x="377.90" y="345.20" font-size="11.5" stroke="#000" stroke-width="0.18" textLength="30.5" lengthAdjust="spacingAndGlyphs">0.005</text>
<line x1="416.50" y1="340.20" x2="437.20" y2="340.20" stroke="#ff6464" stroke-width="3.2" stroke-linecap="round"/>
<text x="371.00" y="362.70" font-size="11.5" stroke="#000" stroke-width="0.18" textLength="37.4" lengthAdjust="spacingAndGlyphs">0.0025</text>
<line x1="416.50" y1="358.80" x2="437.20" y2="358.80" stroke="#f5c150" stroke-width="3.2" stroke-linecap="round"/>
<text x="364.00" y="383.20" font-size="11.5" stroke="#000" stroke-width="0.18" textLength="44.4" lengthAdjust="spacingAndGlyphs">0.00125</text>
<line x1="416.50" y1="379.20" x2="437.20" y2="379.20" stroke="#03d2d4" stroke-width="3.2" stroke-linecap="round"/>
<text x="326.40" y="424.50" font-family="Liberation Serif" font-style="italic" font-size="13.5" textLength="8.0" lengthAdjust="spacingAndGlyphs">&#969;</text>
<text x="334.90" y="426.70" font-family="Liberation Serif" font-style="italic" font-size="9.5" textLength="4.6" lengthAdjust="spacingAndGlyphs">c</text>
<text x="342.90" y="424.80" font-size="10.9" textLength="21.4" lengthAdjust="spacingAndGlyphs">(cm</text>
<text x="364.60" y="420.10" font-size="7.8" textLength="10.8" lengthAdjust="spacingAndGlyphs">&#8722;1</text>
<text x="376.10" y="424.80" font-size="10.9">)</text>
<clipPath id="clipf"><rect x="497.70" y="210.60" width="186.80" height="184.60"/></clipPath>
<g clip-path="url(#clipf)"><polyline points="497.0,272.0 500.0,273.9 505.3,278.4 511.5,281.2 517.8,283.7 526.7,288.2 535.6,293.5 540.0,298.0 543.6,302.4 547.0,307.6 552.0,313.5 556.5,319.5 560.5,327.0 563.6,333.1 566.0,339.0 568.0,345.4 570.5,355.0 573.0,360.0 575.0,364.2 577.2,365.1 579.4,361.1 580.7,355.0 582.0,340.0 583.9,323.4 585.0,315.0 586.8,300.0 589.1,280.4 591.2,258.5 594.4,240.7 599.2,225.3 604.9,219.7 610.5,218.9 617.0,221.0 628.3,225.3 641.2,229.7 646.1,229.4 655.8,231.8 667.1,235.0 678.4,237.8 686.0,239.0" fill="none" stroke="#ff6464" stroke-width="2.6" stroke-linejoin="round" stroke-linecap="round"/><polyline points="497.0,264.2 505.0,265.0 517.8,266.8 529.4,269.5 540.1,272.6 548.9,275.2 553.0,276.3 557.6,276.9 561.5,276.2 565.0,274.0 569.0,270.5 573.0,267.3 577.0,264.6 581.2,263.4 586.5,263.5 594.2,265.0 600.8,264.9 607.3,263.1 617.0,260.4 628.3,258.5 642.9,256.8 655.8,256.0 686.0,255.6" fill="none" stroke="#03d2d4" stroke-width="2.6" stroke-linejoin="round" stroke-linecap="round"/><polyline points="497.0,270.2 500.0,271.2 508.9,274.8 517.8,279.2 526.7,283.7 535.6,289.9 541.0,295.5 546.3,302.4 550.3,309.0 555.8,320.0 560.1,333.1 563.6,346.3 566.3,356.8 568.9,370.8 574.6,387.4 579.8,376.0 581.2,368.1 582.9,355.0 585.1,337.5 587.3,320.0 589.7,300.0 592.3,285.2 594.2,274.0 596.0,266.5 598.0,259.5 600.5,254.5 604.1,249.6 612.2,244.7 623.5,243.1 639.6,243.6 655.8,244.7 671.9,245.9 686.0,246.8" fill="none" stroke="#f5c150" stroke-width="2.6" stroke-linejoin="round" stroke-linecap="round"/><line x1="497.70" y1="257.40" x2="684.50" y2="257.40" stroke="#000" stroke-width="2.3"/></g>
<rect x="497.70" y="210.60" width="186.80" height="184.60" fill="none" stroke="#787878" stroke-width="1"/>
<line x1="495.10" y1="230.42" x2="497.70" y2="230.42" stroke="#9a9a9a" stroke-width="0.9"/>
<text x="492.70" y="234.42" font-size="10.5" stroke="#000" stroke-width="0.22" text-anchor="end" textLength="21.3" lengthAdjust="spacingAndGlyphs">1.05</text>
<line x1="495.10" y1="257.40" x2="497.70" y2="257.40" stroke="#9a9a9a" stroke-width="0.9"/>
<text x="492.70" y="261.40" font-size="10.5" stroke="#000" stroke-width="0.22" text-anchor="end" textLength="21.3" lengthAdjust="spacingAndGlyphs">1.00</text>
<line x1="495.10" y1="284.38" x2="497.70" y2="284.38" stroke="#9a9a9a" stroke-width="0.9"/>
<text x="492.70" y="288.38" font-size="10.5" stroke="#000" stroke-width="0.22" text-anchor="end" textLength="21.3" lengthAdjust="spacingAndGlyphs">0.95</text>
<line x1="495.10" y1="311.35" x2="497.70" y2="311.35" stroke="#9a9a9a" stroke-width="0.9"/>
<text x="492.70" y="315.35" font-size="10.5" stroke="#000" stroke-width="0.22" text-anchor="end" textLength="21.3" lengthAdjust="spacingAndGlyphs">0.90</text>
<line x1="495.10" y1="338.32" x2="497.70" y2="338.32" stroke="#9a9a9a" stroke-width="0.9"/>
<text x="492.70" y="342.32" font-size="10.5" stroke="#000" stroke-width="0.22" text-anchor="end" textLength="21.3" lengthAdjust="spacingAndGlyphs">0.85</text>
<line x1="495.10" y1="365.30" x2="497.70" y2="365.30" stroke="#9a9a9a" stroke-width="0.9"/>
<text x="492.70" y="369.30" font-size="10.5" stroke="#000" stroke-width="0.22" text-anchor="end" textLength="21.3" lengthAdjust="spacingAndGlyphs">0.80</text>
<line x1="495.10" y1="392.27" x2="497.70" y2="392.27" stroke="#9a9a9a" stroke-width="0.9"/>
<text x="492.70" y="396.27" font-size="10.5" stroke="#000" stroke-width="0.22" text-anchor="end" textLength="21.3" lengthAdjust="spacingAndGlyphs">0.75</text>
<line x1="512.60" y1="395.20" x2="512.60" y2="397.80" stroke="#9a9a9a" stroke-width="0.9"/>
<line x1="550.20" y1="395.20" x2="550.20" y2="397.80" stroke="#9a9a9a" stroke-width="0.9"/>
<line x1="587.60" y1="395.20" x2="587.60" y2="397.80" stroke="#9a9a9a" stroke-width="0.9"/>
<line x1="625.00" y1="395.20" x2="625.00" y2="397.80" stroke="#9a9a9a" stroke-width="0.9"/>
<line x1="662.40" y1="395.20" x2="662.40" y2="397.80" stroke="#9a9a9a" stroke-width="0.9"/>
<text x="512.60" y="408.20" font-size="10.5" stroke="#000" stroke-width="0.22" text-anchor="middle" textLength="18.5" lengthAdjust="spacingAndGlyphs">750</text>
<text x="550.20" y="408.20" font-size="10.5" stroke="#000" stroke-width="0.22" text-anchor="middle" textLength="24.7" lengthAdjust="spacingAndGlyphs">1000</text>
<text x="587.60" y="408.20" font-size="10.5" stroke="#000" stroke-width="0.22" text-anchor="middle" textLength="24.7" lengthAdjust="spacingAndGlyphs">1250</text>
<text x="625.00" y="408.20" font-size="10.5" stroke="#000" stroke-width="0.22" text-anchor="middle" textLength="24.7" lengthAdjust="spacingAndGlyphs">1500</text>
<text x="662.40" y="408.20" font-size="10.5" stroke="#000" stroke-width="0.22" text-anchor="middle" textLength="24.7" lengthAdjust="spacingAndGlyphs">1750</text>
<g transform="translate(462.80,329.30) rotate(-90)" font-family="Liberation Serif" stroke="#000" stroke-width="0.08"><text x="-0.30" y="0.00" font-size="17.5" font-style="italic" textLength="8.60" lengthAdjust="spacingAndGlyphs">&#954;</text><text x="9.40" y="0.00" font-size="17.5" textLength="6.00" lengthAdjust="spacingAndGlyphs">(</text><text x="15.60" y="0.00" font-size="17.5" font-style="italic" textLength="9.60" lengthAdjust="spacingAndGlyphs">&#969;</text><text x="26.60" y="2.90" font-size="12.0" font-style="italic" textLength="5.60" lengthAdjust="spacingAndGlyphs">c</text><text x="32.40" y="0.00" font-size="17.5" textLength="5.60" lengthAdjust="spacingAndGlyphs">)</text><text x="40.60" y="1.80" font-size="20.5" textLength="7.60" lengthAdjust="spacingAndGlyphs">/</text><text x="49.30" y="0.00" font-size="17.5" font-style="italic" textLength="8.00" lengthAdjust="spacingAndGlyphs">&#954;</text><text x="57.20" y="2.90" font-size="12.0" textLength="7.40" lengthAdjust="spacingAndGlyphs">0</text></g>
<text x="591.3" y="347.8" font-size="12.4">C</text>
<text x="600.4" y="349.2" font-size="7.7">Q</text>
<text x="609.3" y="347.6" font-size="11.8">=</text>
<text x="620.00" y="347.80" font-size="11.8" stroke="#000" stroke-width="0.18" textLength="25.6" lengthAdjust="spacingAndGlyphs">5x10</text>
<text x="646.10" y="343.30" font-size="8.2" textLength="7.7" lengthAdjust="spacingAndGlyphs">-7</text>
<text x="620.80" y="365.70" font-size="11.8" stroke="#000" stroke-width="0.18" textLength="25.5" lengthAdjust="spacingAndGlyphs">2x10</text>
<text x="646.80" y="361.20" font-size="8.2" textLength="7.0" lengthAdjust="spacingAndGlyphs">-6</text>
<text x="620.80" y="383.60" font-size="11.8" stroke="#000" stroke-width="0.18" textLength="25.5" lengthAdjust="spacingAndGlyphs">5x10</text>
<text x="646.80" y="379.10" font-size="8.2" textLength="7.0" lengthAdjust="spacingAndGlyphs">-6</text>
<line x1="657.9" y1="340.50" x2="680.0" y2="340.50" stroke="#f03c1e" stroke-width="3.2" stroke-linecap="round"/>
<line x1="657.9" y1="359.20" x2="680.0" y2="359.20" stroke="#f5c150" stroke-width="3.2" stroke-linecap="round"/>
<line x1="657.9" y1="379.30" x2="680.0" y2="379.30" stroke="#03d2d4" stroke-width="3.2" stroke-linecap="round"/>
<text x="565.30" y="424.50" font-family="Liberation Serif" font-style="italic" font-size="13.5" textLength="8.0" lengthAdjust="spacingAndGlyphs">&#969;</text>
<text x="573.80" y="426.70" font-family="Liberation Serif" font-style="italic" font-size="9.5" textLength="4.6" lengthAdjust="spacingAndGlyphs">c</text>
<text x="581.80" y="424.80" font-size="10.9" textLength="21.4" lengthAdjust="spacingAndGlyphs">(cm</text>
<text x="603.50" y="420.10" font-size="7.8" textLength="10.8" lengthAdjust="spacingAndGlyphs">&#8722;1</text>
<text x="615.00" y="424.80" font-size="10.9">)</text>
<text x="-0.70" y="12.80" font-size="12.1">(a)</text>
<text x="211.10" y="12.80" font-size="12.1">(b)</text>
<text x="454.60" y="12.80" font-size="12.1">(c)</text>
<text x="-0.70" y="224.00" font-size="12.1">(d)</text>
<text x="211.60" y="224.00" font-size="12.1">(e)</text>
<text x="454.60" y="224.00" font-size="12.1">(f)</text>
</svg></body></html>
